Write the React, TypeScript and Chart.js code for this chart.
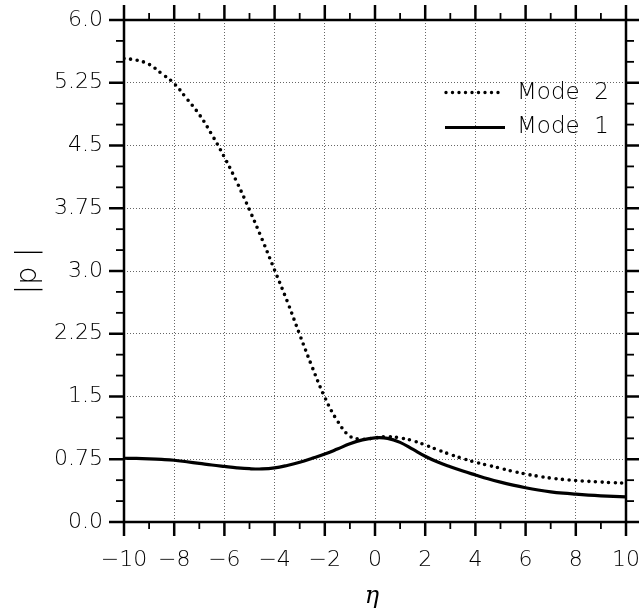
import React, { useEffect, useRef } from "react";
import { Chart, registerables } from "chart.js";

Chart.register(...registerables);

const etaValues = [-10, -9.5, -9, -8.5, -8, -7.5, -7, -6.5, -6, -5.5, -5, -4.5, -4, -3.5, -3, -2.5, -2, -1.5, -1, -0.5, 0, 0.5, 1, 1.5, 2, 2.5, 3, 3.5, 4, 4.5, 5, 5.5, 6, 6.5, 7, 7.5, 8, 8.5, 9, 9.5, 10];
const mode1Values = [0.762, 0.76, 0.755, 0.748, 0.738, 0.72, 0.701, 0.681, 0.664, 0.648, 0.637, 0.634, 0.646, 0.676, 0.715, 0.762, 0.812, 0.872, 0.935, 0.982, 1.006, 1.0, 0.952, 0.87, 0.786, 0.716, 0.66, 0.609, 0.562, 0.516, 0.476, 0.441, 0.41, 0.383, 0.361, 0.345, 0.333, 0.322, 0.313, 0.306, 0.3];
const mode2Values = [5.54, 5.52, 5.47, 5.36, 5.24, 5.06, 4.87, 4.63, 4.36, 4.06, 3.73, 3.38, 3.01, 2.64, 2.24, 1.85, 1.49, 1.21, 1.025, 0.99, 1.005, 1.02, 1.005, 0.972, 0.92, 0.862, 0.808, 0.758, 0.715, 0.678, 0.642, 0.605, 0.573, 0.547, 0.525, 0.508, 0.495, 0.486, 0.478, 0.47, 0.465];

const seriesNames = ["Mode  2", "Mode  1"];

const xMajorTicks = [-10, -8, -6, -4, -2, 0, 2, 4, 6, 8, 10];
const xMinorTicks = [-9, -7, -5, -3, -1, 1, 3, 5, 7, 9];
const xTickLabels = ["\u221210", "\u22128", "\u22126", "\u22124", "\u22122", "0", "2", "4", "6", "8", "10"];
const yMajorTicks = [0, 0.75, 1.5, 2.25, 3, 3.75, 4.5, 5.25, 6];
const yMinorTicks = [0.25, 0.5, 1, 1.25, 1.75, 2, 2.5, 2.75, 3.25, 3.5, 4, 4.25, 4.75, 5, 5.5, 5.75];
const yTickLabels = ["0.0", "0.75", "1.5", "2.25", "3.0", "3.75", "4.5", "5.25", "6.0"];

const xTitle = "\u03b7";
const yTitle = "|p |";

const FONT = "'DejaVu Sans', 'Liberation Sans', sans-serif";

const framePlugin = {
  id: "frameAndExtras",
  afterDraw(chart: any) {
    const ctx = chart.ctx;
    const xs = chart.scales.x;
    const ys = chart.scales.y;
    const { left, right, top, bottom } = chart.chartArea;
    ctx.save();
    ctx.strokeStyle = "#000";
    ctx.lineCap = "butt";
    ctx.lineWidth = 2.5;
    ctx.strokeRect(left, top, right - left, bottom - top);
    const tick = (x1: number, y1: number, x2: number, y2: number, w: number) => {
      ctx.lineWidth = w;
      ctx.beginPath();
      ctx.moveTo(x1, y1);
      ctx.lineTo(x2, y2);
      ctx.stroke();
    };
    xMajorTicks.forEach((v) => {
      const px = xs.getPixelForValue(v);
      tick(px, bottom, px, bottom + 14, 2.5);
      tick(px, top, px, top - 15, 2.5);
    });
    xMinorTicks.forEach((v) => {
      const px = xs.getPixelForValue(v);
      tick(px, bottom, px, bottom + 7, 1.8);
      tick(px, top, px, top - 7, 1.8);
    });
    yMajorTicks.forEach((v) => {
      const py = ys.getPixelForValue(v);
      tick(left, py, left - 15, py, 2.5);
      tick(right, py, right + 15, py, 2.5);
    });
    yMinorTicks.forEach((v) => {
      const py = ys.getPixelForValue(v);
      tick(left, py, left - 8, py, 1.8);
      tick(right, py, right + 8, py, 1.8);
    });

    // legend
    ctx.lineWidth = 3.4;
    ctx.lineCap = "round";
    ctx.setLineDash([0, 6.5]);
    ctx.beginPath();
    ctx.moveTo(446, 92.5);
    ctx.lineTo(503, 92.5);
    ctx.stroke();
    ctx.setLineDash([]);
    ctx.lineCap = "butt";
    ctx.lineWidth = 3.2;
    ctx.beginPath();
    ctx.moveTo(445, 127.5);
    ctx.lineTo(505, 127.5);
    ctx.stroke();
    ctx.fillStyle = "#000";
    ctx.font = "200 23px " + FONT;
    ctx.textAlign = "left";
    ctx.textBaseline = "middle";
    ctx.fillText(seriesNames[0], 517, 93);
    ctx.fillText(seriesNames[1], 517, 127);

    // axis titles
    ctx.font = "italic 24px 'DejaVu Serif', serif";
    ctx.textAlign = "center";
    ctx.textBaseline = "alphabetic";
    ctx.fillText(xTitle, (left + right) / 2 - 3, 603);

    ctx.save();
    ctx.translate(36, (top + bottom) / 2);
    ctx.rotate(-Math.PI / 2);
    ctx.font = "200 29px " + FONT;
    ctx.textAlign = "center";
    ctx.textBaseline = "alphabetic";
    ctx.fillText(yTitle, 0, 0);
    ctx.restore();

    ctx.restore();
  },
};

export default function App() {
  const ref = useRef<HTMLCanvasElement | null>(null);
  useEffect(() => {
    if (!ref.current) return;
    const points1 = etaValues.map((x, i) => ({ x, y: mode1Values[i] }));
    const points2 = etaValues.map((x, i) => ({ x, y: mode2Values[i] }));
    const chart = new Chart(ref.current, {
      type: "line",
      data: {
        datasets: [
          {
            label: seriesNames[0],
            data: points2,
            borderColor: "#000",
            borderWidth: 3.6,
            borderDash: [0, 6.6],
            borderCapStyle: "round",
            pointRadius: 0,
            fill: false,
            tension: 0.4,
          },
          {
            label: seriesNames[1],
            data: points1,
            borderColor: "#000",
            borderWidth: 3.2,
            pointRadius: 0,
            fill: false,
            tension: 0.4,
          },
        ],
      },
      options: {
        responsive: false,
        devicePixelRatio: 1,
        animation: false,
        layout: { padding: { left: 0, top: 20, right: 13, bottom: 0 } },
        plugins: { legend: { display: false }, tooltip: { enabled: false } },
        scales: {
          x: {
            type: "linear",
            min: -10,
            max: 10,
            afterBuildTicks: (scale: any) => {
              scale.ticks = xMajorTicks.map((v) => ({ value: v }));
            },
            afterFit: (scale: any) => {
              scale.height = 92;
              scale.paddingLeft = 0;
              scale.paddingRight = 0;
            },
            ticks: {
              autoSkip: false,
              maxRotation: 0,
              minRotation: 0,
              padding: 25,
              color: "#000",
              font: { family: FONT, size: 22, weight: "200" },
              callback: (_v: any, i: number) => xTickLabels[i],
            },
            grid: {
              drawTicks: false,
              lineWidth: 1,
              color: (c: any) => (c.tick && Math.abs(c.tick.value) < 9.99 ? "#666" : "rgba(0,0,0,0)"),
            },
            border: { display: false, dash: [1, 2] },
          },
          y: {
            type: "linear",
            min: 0,
            max: 6,
            afterBuildTicks: (scale: any) => {
              scale.ticks = yMajorTicks.map((v) => ({ value: v }));
            },
            afterFit: (scale: any) => {
              scale.width = 124;
              scale.paddingTop = 0;
              scale.paddingBottom = 0;
            },
            ticks: {
              autoSkip: false,
              padding: 21,
              color: "#000",
              font: { family: FONT, size: 22, weight: "200" },
              callback: (_v: any, i: number) => yTickLabels[i],
            },
            grid: {
              drawTicks: false,
              lineWidth: 1,
              color: (c: any) => (c.tick && c.tick.value > 0.01 && c.tick.value < 5.99 ? "#666" : "rgba(0,0,0,0)"),
            },
            border: { display: false, dash: [1, 2] },
          },
        },
      } as any,
      plugins: [framePlugin],
    });
    return () => chart.destroy();
  }, []);
  return (
    <div style={{ position: "absolute", left: 0, top: 0, width: 639, height: 614, background: "#fff" }}>
      <canvas ref={ref} width={639} height={614} style={{ width: 639, height: 614, display: "block" }} />
    </div>
  );
}
